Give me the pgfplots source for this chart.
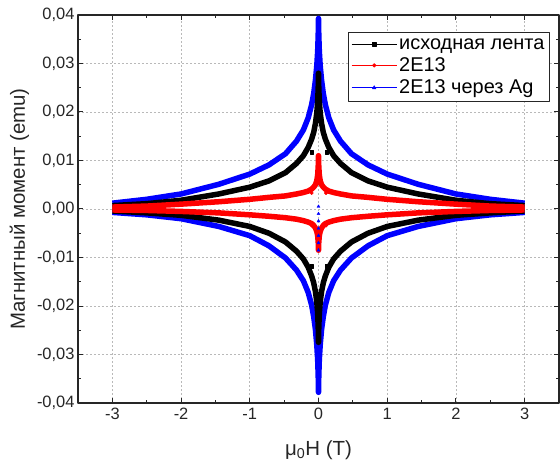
\documentclass[border=0pt]{standalone}
\usepackage{fontspec}
\setmainfont{Liberation Sans}
\usepackage{pgfplots}
\pgfplotsset{compat=1.18}
\begin{document}
\begin{tikzpicture}
\begin{axis}[
  scale only axis, width=481bp, height=388bp,
  xmin=-3.5, xmax=3.5, ymin=-0.04, ymax=0.04,
  xtick={-3,-2,-1,0,1,2,3},
  ytick={-0.04,-0.03,-0.02,-0.01,0,0.01,0.02,0.03,0.04},
  scaled y ticks=false,
  minor x tick num=1, minor y tick num=1,
  tick align=inside,
  major tick length=5bp, minor tick length=3bp,
  every tick/.style={black!85, line width=1bp},
  axis line style={line width=1.2bp, black!85},
  grid=major,
  major grid style={dash pattern=on 2bp off 2bp, gray!55, line width=0.6bp},
  /pgf/number format/assume math mode=true,
  y tick label style={/pgf/number format/fixed, /pgf/number format/fixed zerofill, /pgf/number format/precision=2, /pgf/number format/use comma},
  tick label style={font=\fontsize{16.5}{19}\selectfont, black!85},
  x tick label style={yshift=-2bp},
  xlabel={μ\textsubscript{0}H (T)},
  ylabel={Магнитный момент (emu)},
  label style={font=\fontsize{20.5}{23}\selectfont, black!85},
  xlabel style={yshift=-14bp},
  ylabel style={yshift=1bp},
  legend style={at={(0.561,0.956)}, anchor=north west, draw=black!85, line width=0.8bp,
    font=\fontsize{20}{23}\selectfont, inner xsep=3bp, inner ysep=4bp, row sep=3bp},
  legend cell align=left,
  legend image code/.code={\draw[mark repeat=2,mark phase=2,#1] plot coordinates {(0cm,0cm)(0.8cm,0cm)(1.6cm,0cm)};},
  line join=round,
]
% blue (2E13 через Ag)
\addplot[blue, line width=5.5bp, forget plot] coordinates {(-3,0.0012)(-2.5,0.0020)(-2,0.0031)(-1.45,0.0051)(-1,0.0072)(-0.72,0.0091)(-0.48,0.0114)(-0.32,0.0140)(-0.22,0.0163)(-0.15,0.0188)(-0.1,0.0215)(-0.07,0.0238)(-0.045,0.0265)(-0.025,0.0295)(-0.012,0.0325)(-0.004,0.036)(0,0.0393)(0.004,0.036)(0.012,0.0325)(0.025,0.0295)(0.045,0.0265)(0.07,0.0238)(0.1,0.0215)(0.15,0.0188)(0.22,0.0163)(0.32,0.0140)(0.48,0.0114)(0.72,0.0091)(1,0.0072)(1.45,0.0051)(2,0.0031)(2.5,0.0020)(3,0.0012)};
\addplot[blue, line width=5.5bp, forget plot] coordinates {(-3,-0.0007)(-2.5,-0.0012)(-2,-0.0020)(-1.45,-0.0036)(-1,-0.0055)(-0.72,-0.0076)(-0.48,-0.0101)(-0.32,-0.0126)(-0.22,-0.0148)(-0.15,-0.0172)(-0.1,-0.0198)(-0.07,-0.0222)(-0.045,-0.0248)(-0.025,-0.028)(-0.012,-0.031)(-0.004,-0.0345)(0,-0.0378)(0.004,-0.0345)(0.012,-0.031)(0.025,-0.028)(0.045,-0.0248)(0.07,-0.0222)(0.1,-0.0198)(0.15,-0.0172)(0.22,-0.0148)(0.32,-0.0126)(0.48,-0.0101)(0.72,-0.0076)(1,-0.0055)(1.45,-0.0036)(2,-0.0020)(2.5,-0.0012)(3,-0.0007)};
\addplot[blue, only marks, mark=triangle*, mark size=1.8bp, forget plot] coordinates {(0,0.0005)(0,-0.001)(0,-0.0025)(0,-0.004)(0,-0.0055)(0,-0.007)(0,-0.0085)};
% black (исходная лента)
\addplot[black, line width=5.5bp, forget plot] coordinates {(-3,0.0007)(-2.5,0.0011)(-2,0.0018)(-1.45,0.0031)(-1,0.0045)(-0.72,0.0058)(-0.48,0.0075)(-0.32,0.0094)(-0.22,0.0110)(-0.15,0.0127)(-0.1,0.0144)(-0.07,0.0158)(-0.045,0.0176)(-0.025,0.0198)(-0.012,0.0222)(-0.004,0.0250)(0,0.0280)(0.004,0.0250)(0.012,0.0222)(0.025,0.0198)(0.045,0.0176)(0.07,0.0158)(0.1,0.0144)(0.15,0.0127)(0.22,0.0110)(0.32,0.0094)(0.48,0.0075)(0.72,0.0058)(1,0.0045)(1.45,0.0031)(2,0.0018)(2.5,0.0011)(3,0.0007)};
\addplot[black, line width=5.5bp, forget plot] coordinates {(-3,-0.0004)(-2.5,-0.0008)(-2,-0.0013)(-1.45,-0.0023)(-1,-0.0036)(-0.72,-0.0050)(-0.48,-0.0068)(-0.32,-0.0087)(-0.22,-0.0103)(-0.15,-0.0120)(-0.1,-0.0138)(-0.07,-0.0152)(-0.045,-0.0170)(-0.025,-0.0192)(-0.012,-0.0215)(-0.004,-0.0245)(0,-0.0275)(0.004,-0.0245)(0.012,-0.0215)(0.025,-0.0192)(0.045,-0.0170)(0.07,-0.0152)(0.1,-0.0138)(0.15,-0.0120)(0.22,-0.0103)(0.32,-0.0087)(0.48,-0.0068)(0.72,-0.0050)(1,-0.0036)(1.45,-0.0023)(2,-0.0013)(2.5,-0.0008)(3,-0.0004)};
\addplot[black, only marks, mark=square*, mark size=1.8bp, forget plot] coordinates {(-0.1,0.0117)(0.12,0.0117)(-0.1,-0.0118)(0.12,-0.0118)};
% red (2E13)
\addplot[red, line width=5.5bp, forget plot] coordinates {(-3,0.0004)(-2.5,0.0006)(-2,0.0010)(-1.45,0.0015)(-1,0.0020)(-0.72,0.0024)(-0.48,0.0027)(-0.32,0.0031)(-0.22,0.0034)(-0.15,0.0037)(-0.1,0.0041)(-0.07,0.0045)(-0.045,0.0050)(-0.025,0.0058)(-0.012,0.0070)(-0.004,0.0088)(0,0.0110)(0.004,0.0088)(0.012,0.0070)(0.025,0.0058)(0.045,0.0050)(0.07,0.0045)(0.1,0.0041)(0.15,0.0037)(0.22,0.0034)(0.32,0.0031)(0.48,0.0027)(0.72,0.0024)(1,0.0020)(1.45,0.0015)(2,0.0010)(2.5,0.0006)(3,0.0004)};
\addplot[red, line width=5.5bp, forget plot] coordinates {(-3,-0.0002)(-2.5,-0.0003)(-2,-0.0005)(-1.45,-0.0008)(-1,-0.0012)(-0.72,-0.0015)(-0.48,-0.0018)(-0.32,-0.0021)(-0.22,-0.0024)(-0.15,-0.0027)(-0.1,-0.0030)(-0.07,-0.0034)(-0.045,-0.0039)(-0.025,-0.0046)(-0.012,-0.0055)(-0.004,-0.0068)(0,-0.0085)(0.004,-0.0068)(0.012,-0.0055)(0.025,-0.0046)(0.045,-0.0039)(0.07,-0.0034)(0.1,-0.0030)(0.15,-0.0027)(0.22,-0.0024)(0.32,-0.0021)(0.48,-0.0018)(0.72,-0.0015)(1,-0.0012)(1.45,-0.0008)(2,-0.0005)(2.5,-0.0003)(3,-0.0002)};
\addplot[red, only marks, mark=*, mark size=1.8bp, forget plot] coordinates {(-0.1,0.0033)(0.11,0.0033)(-0.1,-0.0034)(0.11,-0.0034)};
% legend
\addlegendimage{black, line width=0.6bp, mark=square*, mark size=1.8bp}
\addlegendentry{исходная лента}
\addlegendimage{red, line width=0.6bp, mark=*, mark size=1.8bp}
\addlegendentry{2E13}
\addlegendimage{blue, line width=0.6bp, mark=triangle*, mark size=2bp}
\addlegendentry{2E13 через Ag}
\end{axis}
\path[use as bounding box] (-78bp,-61bp) rectangle (482bp,403bp);
\end{tikzpicture}
\end{document}
